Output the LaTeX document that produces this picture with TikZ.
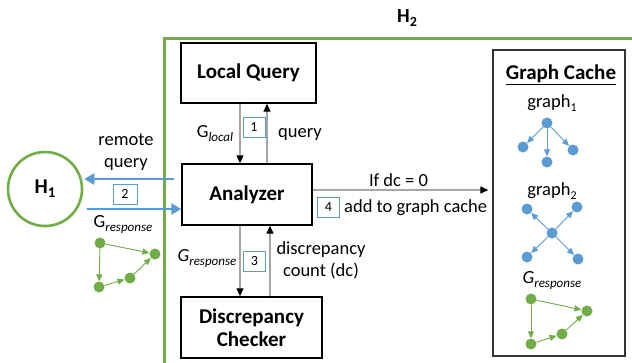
\documentclass[tikz,border=0pt]{standalone}
\usepackage{fontspec}
\setmainfont{Carlito}
\usetikzlibrary{arrows.meta}
\definecolor{hgreen}{HTML}{70AD47}
\definecolor{hblue}{HTML}{5B9BD5}
\definecolor{agray}{HTML}{A6A6A6}
\newcommand{\mysub}[2][13]{\raisebox{-4pt}{\fontsize{#1}{#1}\selectfont #2}}
\begin{document}
\begin{tikzpicture}[x=1pt,y=-1pt,
  mainbox/.style={draw=black, line width=1.4pt, font=\fontsize{21}{25}\selectfont\bfseries, align=center, inner sep=0pt},
  numbox/.style={draw=hblue, line width=1pt, minimum width=22pt, minimum height=20pt, inner sep=0pt, font=\fontsize{14}{14}\selectfont, fill=white},
  txt/.style={font=\fontsize{18.5}{22}\selectfont, align=center, inner sep=0pt},
  garrow/.style={draw=agray, line width=1.3pt, -{Triangle[length=8pt,width=7pt,color=black]}},
  barrow/.style={draw=hblue, line width=2.6pt, -{Triangle[length=10pt,width=11pt]}},
  gn/.style={circle, fill=hgreen, inner sep=0pt, minimum size=11pt},
  bn/.style={circle, fill=hblue, inner sep=0pt, minimum size=11pt},
  gedge/.style={draw=hgreen, line width=0.9pt, -{Triangle[length=7pt,width=6pt]}},
  bedge/.style={draw=hblue, line width=0.9pt, -{Triangle[length=7pt,width=6pt]}},
]
\useasboundingbox[fill=white] (0,0) rectangle (632,362);

% H2 frame
\draw[hgreen, line width=3pt] (164,365) -- (164,38) -- (635,38);
\node[font=\fontsize{20}{20}\selectfont\bfseries, inner sep=0pt] (h2) at (407,18) {H\mysub[14]{2}};

% H1
\node[circle, draw=hgreen, line width=2.6pt, minimum size=74pt, inner sep=0pt,
      font=\fontsize{21}{21}\selectfont\bfseries] (H1) at (45,189) {H\mysub[15]{1}};

% main boxes
\node[mainbox, minimum width=135pt, minimum height=60pt] (LQ) at (248.5,73) {Local Query};
\node[mainbox, minimum width=130pt, minimum height=61pt] (AN) at (247,194.5) {Analyzer};
\node[mainbox, minimum width=141pt, minimum height=61pt] (DC) at (251.5,327.5) {Discrepancy\\[-2pt]Checker};
\node[draw=black!80, line width=1.4pt, minimum width=132pt, minimum height=306pt, inner sep=0pt] (GC) at (559,203) {};

% LQ <-> AN
\draw[garrow] ([xshift=-8.5pt]LQ.south) -- ([xshift=-7pt]AN.north);
\draw[garrow] ([xshift=20pt]AN.north) -- ([xshift=18.5pt]LQ.south);
\node[txt] (gl) at (215,134) {G\mysub{\itshape local}};
\node[numbox] (n1) at (254,127) {1};
\node[txt] (qy) at (300,134) {query};

% AN <-> DC
\draw[garrow] ([xshift=-7pt]AN.south) -- ([xshift=-11.5pt]DC.north);
\draw[garrow] ([xshift=18.5pt]DC.north) -- ([xshift=23pt]AN.south);
\node[txt] (gr) at (207,259) {\itshape G\mysub{response}};
\node[numbox] (n3) at (254.5,261) {3};
\node[txt] (dcl) at (321,260) {discrepancy\\count (dc)};

% AN -> GC
\draw[garrow, shorten >=4pt] ([yshift=4.5pt]AN.east) -- ([yshift=13pt]GC.west);
\node[txt] (ifdc) at (398.5,180) {If dc = 0};
\node[numbox] (n4) at (328.5,207) {4};
\node[txt, anchor=west] (add) at (344,208) {add to graph cache};

% H1 <-> AN
\draw[barrow] ([xshift=-7pt,yshift=15.5pt]AN.west) -- ([xshift=1pt,yshift=10pt]H1.east);
\draw[barrow] ([xshift=4pt,yshift=-20pt]H1.east) -- ([yshift=-14.5pt]AN.west);
\node[txt] (rq) at (126,152) {remote\\query};
\node[numbox, minimum width=24pt] (n2) at (125,194) {2};
\node[txt] (grl) at (123,225) {G\mysub{\itshape response}};

% left green graph
\node[gn] (la) at (100,243) {};
\node[gn] (lb) at (155,254) {};
\node[gn] (lc) at (130,278) {};
\node[gn] (ld) at (99,287) {};
\draw[gedge] (la) -- (lb);
\draw[gedge] (la) -- (ld);
\draw[gedge] (ld) -- (lc);
\draw[gedge] (lc) -- (lb);

% graph cache contents
\node[font=\fontsize{21}{21}\selectfont\bfseries, inner sep=0pt] (gct) at (561,75) {\underline{Graph Cache}};
\node[txt] (g1l) at (552,103) {graph\mysub[12]{1}};
\node[bn] (a1) at (547,123) {};
\node[bn] (a2) at (523,147) {};
\node[bn] (a3) at (547,162) {};
\node[bn] (a4) at (573,150) {};
\draw[bedge] (a1) -- (a2);
\draw[bedge] (a1) -- (a3);
\draw[bedge] (a1) -- (a4);

\node[txt] (g2l) at (552,191) {graph\mysub[12]{2}};
\node[bn] (b0) at (552,233) {};
\node[bn] (b1) at (527,209) {};
\node[bn] (b2) at (577,207) {};
\node[bn] (b3) at (527,257) {};
\node[bn] (b4) at (578,259) {};
\draw[bedge] (b0) -- (b1);
\draw[bedge] (b0) -- (b2);
\draw[bedge] (b0) -- (b3);
\draw[bedge] (b0) -- (b4);

\node[txt] (grc) at (552,281) {\itshape G\mysub{response}};
\node[gn] (ca) at (531,299) {};
\node[gn] (cb) at (587,311) {};
\node[gn] (cc) at (562,334) {};
\node[gn] (cd) at (531,344) {};
\draw[gedge] (ca) -- (cb);
\draw[gedge] (ca) -- (cd);
\draw[gedge] (cd) -- (cc);
\draw[gedge] (cc) -- (cb);
\end{tikzpicture}
\end{document}
